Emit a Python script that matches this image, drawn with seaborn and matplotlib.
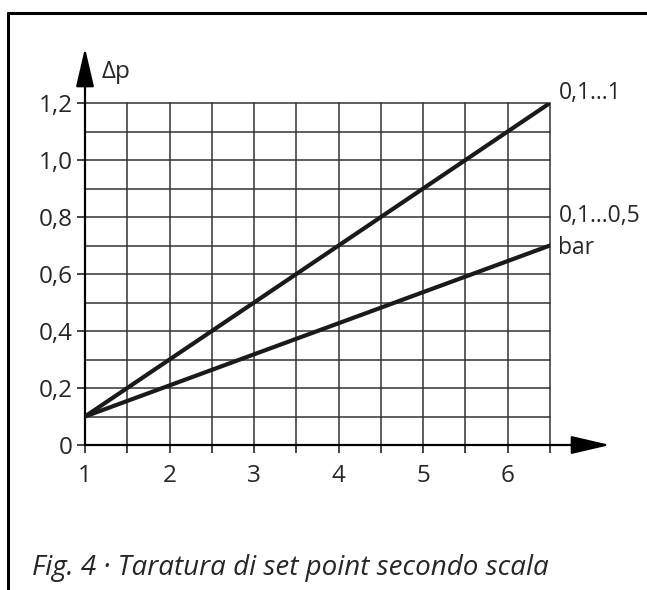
import matplotlib
matplotlib.use('Agg')
import matplotlib.pyplot as plt
from matplotlib.lines import Line2D
import seaborn as sns
import pandas as pd

# scale position (setting) and differential pressure range ends
scale = [1, 6.5]
range_1 = [0.1, 1.2]     # 0,1...1 bar
range_05 = [0.1, 0.7]    # 0,1...0,5 bar
range_names = ['0,1...1', '0,1...0,5']

x_ticks = [1, 2, 3, 4, 5, 6]
y_ticks = [0, 0.2, 0.4, 0.6, 0.8, 1.0, 1.2]
y_labels = ['0', '0,2', '0,4', '0,6', '0,8', '1,0', '1,2']

data = pd.DataFrame({
    'scale': scale + scale,
    'dp': range_1 + range_05,
    'range': [range_names[0]] * 2 + [range_names[1]] * 2,
})

sns.set_style('white')
plt.rcParams['font.family'] = ['Open Sans', 'DejaVu Sans']

fig = plt.figure(figsize=(6.47, 5.90), dpi=100)
ax = fig.add_axes([85 / 647, 145 / 590, 465 / 647, 342 / 590])

a = sns.lineplot(data=data, x='scale', y='dp', hue='range',
                 palette=['#1a1a1a', '#1a1a1a'], linewidth=3,
                 legend=False, ax=ax, zorder=5)

ax.set_xlim(1, 6.5)
ax.set_ylim(0, 1.2)
for s in ax.spines.values():
    s.set_visible(False)

ax.set_xticks(x_ticks)
ax.set_xticks([1.5, 2.5, 3.5, 4.5, 5.5, 6.5], minor=True)
ax.set_yticks(y_ticks)
ax.set_yticklabels(y_labels)
ax.set_yticks([0.1, 0.3, 0.5, 0.7, 0.9, 1.1], minor=True)

ax.tick_params(axis='x', which='both', direction='out', length=6, width=1.2,
               color='#222222', bottom=True, labelsize=17.5, pad=8)
ax.tick_params(axis='y', which='major', direction='out', length=6, width=1.2,
               color='#222222', left=True, labelsize=17.5, pad=3)
ax.tick_params(axis='y', which='minor', length=0)

ax.grid(True, which='both', color='#333333', linewidth=1.1)
for t in (ax.xaxis.get_major_ticks() + ax.xaxis.get_minor_ticks()
          + ax.yaxis.get_major_ticks() + ax.yaxis.get_minor_ticks()):
    t.gridline.set_clip_on(False)

ax.set_xlabel('')
ax.set_ylabel('')

# axis arrows
arrow = dict(arrowstyle='-|>,head_length=1.2,head_width=0.28', color='black',
             lw=1.6, shrinkA=0, shrinkB=0, mutation_scale=20)
ax.annotate('', xy=(7.21, 0), xytext=(1, 0), arrowprops=arrow,
            annotation_clip=False)
ax.annotate('', xy=(1, 1.393), xytext=(1, 0), arrowprops=arrow,
            annotation_clip=False)

ax.text(1.2, 1.31, '\u0394p', fontsize=17.5, va='center', ha='left')
ax.text(6.6, 1.235, range_names[0], fontsize=16.5, va='center', ha='left')
ax.text(6.6, 0.805, range_names[1], fontsize=16.5, va='center', ha='left')
ax.text(6.6, 0.69, 'bar', fontsize=16.5, va='center', ha='left')

# frame
fig.add_artist(Line2D([8 / 647, 8 / 647], [0, 577 / 590], color='black', lw=2.2))
fig.add_artist(Line2D([8 / 647, 1], [577 / 590, 577 / 590], color='black', lw=2.2))

fig.text(32 / 647, 1 - 568 / 590, 'Fig. 4 \u00b7 Taratura di set point secondo scala',
         fontsize=20, style='italic', va='center', ha='left')

plt.savefig('out.png', dpi=100)
